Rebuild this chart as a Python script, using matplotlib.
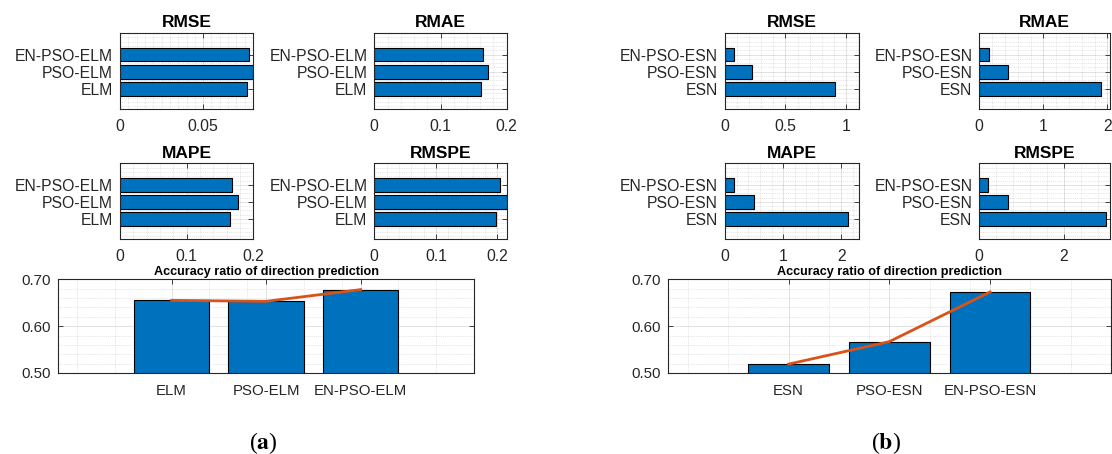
import matplotlib
matplotlib.use('Agg')

import matplotlib.pyplot as plt
from matplotlib.ticker import MultipleLocator, FixedLocator

plt.rcParams['font.family'] = ['Liberation Sans', 'DejaVu Sans']
plt.rcParams['mathtext.fontset'] = 'stix'

# data
models_a = ['ELM', 'PSO-ELM', 'EN-PSO-ELM']
rmse_a = [0.0765, 0.0800, 0.0777]
rmae_a = [0.1607, 0.1713, 0.1637]
mape_a = [0.1650, 0.1765, 0.1685]
rmspe_a = [0.198, 0.215, 0.2043]
acc_a = [0.655, 0.653, 0.678]

models_b = ['ESN', 'PSO-ESN', 'EN-PSO-ESN']
rmse_b = [0.912, 0.220, 0.077]
rmae_b = [1.906, 0.448, 0.156]
mape_b = [2.120, 0.493, 0.160]
rmspe_b = [2.990, 0.670, 0.205]
acc_b = [0.519, 0.567, 0.673]

BLUE = '#0072BD'
ORANGE = '#D95319'
DARK = '#262626'
W, H = 1112, 454

fig = plt.figure(figsize=(W / 100, H / 100), dpi=100)


def add_ax(l, t, r, b):
    return fig.add_axes([l / W, 1 - b / H, (r - l) / W, (b - t) / H])


def style(ax):
    ax.set_axisbelow(True)
    ax.grid(True, which='major', color=DARK, alpha=0.15, lw=0.6)
    ax.grid(True, which='minor', color=DARK, alpha=0.22, lw=0.5, ls=':')
    for s in ax.spines.values():
        s.set_color(DARK)
        s.set_linewidth(0.8)
    ax.tick_params(which='both', direction='in', top=True, right=True,
                   colors=DARK, labelcolor=DARK)
    ax.tick_params(which='major', length=3.5, width=0.6)
    ax.tick_params(which='minor', length=0)


def metric_panel(rect, models, vals, title, xmax, ticks, minor):
    ax = add_ax(*rect)
    ypos = [1, 2, 3]
    ax.barh(ypos, vals, height=0.8, color=BLUE, edgecolor='black', lw=0.8)
    ax.set_ylim(-0.17, 4.26)
    ax.set_xlim(0, xmax)
    ax.set_yticks(ypos)
    ax.set_yticklabels(models)
    ax.set_xticks(ticks)
    ax.set_xticklabels(['{:g}'.format(t) for t in ticks])
    ax.xaxis.set_minor_locator(MultipleLocator(minor))
    ax.yaxis.set_minor_locator(MultipleLocator(0.25))
    style(ax)
    ax.tick_params(axis='x', labelsize=11.3, pad=7)
    ax.tick_params(axis='y', labelsize=11.3, pad=5)
    ax.set_title(title, fontsize=12.5, fontweight='bold', pad=4)
    return ax


def acc_panel(rect, models, vals):
    ax = add_ax(*rect)
    xpos = [1, 2, 3]
    ax.bar(xpos, vals, width=0.8, color=BLUE, edgecolor='black', lw=0.8)
    ax.plot(xpos, vals, color=ORANGE, lw=2)
    ax.set_xlim(-0.2, 4.2)
    ax.set_ylim(0.5, 0.7)
    ax.set_xticks(xpos)
    ax.set_xticklabels(models)
    ax.set_yticks([0.5, 0.6, 0.7])
    ax.set_yticklabels(['0.50', '0.60', '0.70'])
    ax.xaxis.set_minor_locator(FixedLocator([0.0, 0.4, 1.4, 1.8, 2.4, 2.8, 3.4, 3.8]))
    ax.yaxis.set_minor_locator(MultipleLocator(0.02))
    style(ax)
    ax.tick_params(axis='x', labelsize=10.8, pad=8)
    ax.tick_params(axis='y', labelsize=10.8, pad=5)
    ax.set_title('Accuracy ratio of direction prediction', fontsize=9.1,
                 fontweight='bold', pad=3)
    return ax


# panel (a)
metric_panel((120, 33, 253, 109), models_a, rmse_a, 'RMSE', 0.080, [0, 0.05], 0.005)
metric_panel((374.3, 33, 506.7, 109), models_a, rmae_a, 'RMAE', 0.2, [0, 0.1, 0.2], 0.02)
metric_panel((120, 163.3, 253.3, 239), models_a, mape_a, 'MAPE', 0.2, [0, 0.1, 0.2], 0.02)
metric_panel((374.3, 163.3, 506.7, 239), models_a, rmspe_a, 'RMSPE', 0.215, [0, 0.1, 0.2], 0.02)
acc_panel((58.3, 279.3, 474, 373), models_a, acc_a)

# panel (b)
metric_panel((725, 33, 859.3, 109), models_b, rmse_b, 'RMSE', 1.11, [0, 0.5, 1], 0.1)
metric_panel((979.3, 33, 1110, 109), models_b, rmae_b, 'RMAE', 2.04, [0, 1, 2], 0.2)
metric_panel((725, 163.3, 859.3, 239), models_b, mape_b, 'MAPE', 2.31, [0, 1, 2], 0.2)
metric_panel((979.3, 163.3, 1110, 239), models_b, rmspe_b, 'RMSPE', 3.09, [0, 2], 0.4)
acc_panel((667.7, 279.3, 1111, 373), models_b, acc_b)

fig.text(263 / W, 1 - 443 / H, r'($\mathbf{a}$)', ha='center', va='center',
         fontsize=17, family='Liberation Serif')
fig.text(886 / W, 1 - 443 / H, r'($\mathbf{b}$)', ha='center', va='center',
         fontsize=17, family='Liberation Serif')

fig.savefig('out.png', dpi=100)
